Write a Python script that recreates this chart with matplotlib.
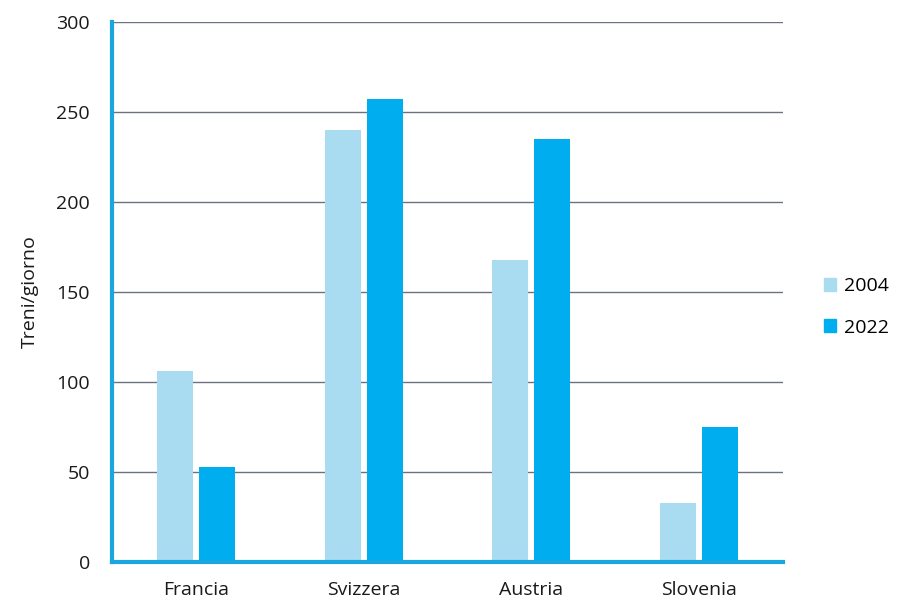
import matplotlib
matplotlib.use("Agg")
import matplotlib.pyplot as plt
import numpy as np
from matplotlib.patches import Patch

categories = ["Francia", "Svizzera", "Austria", "Slovenia"]
series_names = ["2004", "2022"]
values_2004 = [106, 240, 168, 33]
values_2022 = [53, 257, 235, 75]
yticks = [0, 50, 100, 150, 200, 250, 300]

c2004 = "#A9DBF1"
c2022 = "#00AEEF"
spine_c = "#1AA7E0"

plt.rcParams['font.family'] = ['Open Sans', 'DejaVu Sans']

fig = plt.figure(figsize=(9.13, 6.10), dpi=100)
ax = fig.add_axes([112/913, 48/610, (783-112)/913, (562-22)/610])

x = np.arange(len(categories))
w = 0.215
off = 0.125
ax.bar(x - off, values_2004, width=w, color=c2004, zorder=3)
ax.bar(x + off, values_2022, width=w, color=c2022, zorder=3)

ax.set_xlim(-0.5, 3.5)
ax.set_ylim(0, 300)
ax.set_yticks(yticks)
ax.set_xticks(x)
ax.set_xticklabels(categories)
ax.tick_params(axis='both', length=0, labelsize=14, colors="#1a1a1a")
ax.tick_params(axis='y', pad=16)
ax.tick_params(axis='x', pad=14)
ax.yaxis.grid(True, color="#6b7280", linewidth=1.0, zorder=0)
ax.set_axisbelow(True)
for s in ["top", "right"]:
    ax.spines[s].set_visible(False)
for s in ["left", "bottom"]:
    ax.spines[s].set_color(spine_c)
    ax.spines[s].set_linewidth(3)
    ax.spines[s].set_zorder(4)

ax.set_ylabel("Treni/giorno", fontsize=14, color="#1a1a1a", labelpad=12)

handles = [Patch(color=c2004, label=series_names[0]), Patch(color=c2022, label=series_names[1])]
fig.legend(handles=handles, loc="center left", bbox_to_anchor=(806/913, 1 - 307/610),
           frameon=False, fontsize=14, handlelength=0.65, handleheight=0.65,
           handletextpad=0.4, labelspacing=1.2)

fig.savefig("out.png", dpi=100)
